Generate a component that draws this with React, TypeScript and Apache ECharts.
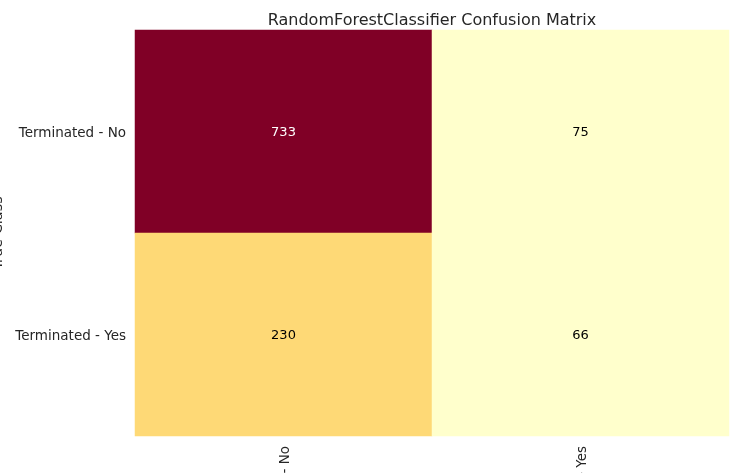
import React, { useEffect, useRef } from "react";
import * as echarts from "echarts";

const predictedClasses = ["Terminated - No", "Terminated - Yes"];
const trueClasses = ["Terminated - No", "Terminated - Yes"];
// [predictedIndex, trueIndex, count]
const cells: [number, number, number][] = [
  [0, 0, 733],
  [1, 0, 75],
  [0, 1, 230],
  [1, 1, 66],
];

export default function App() {
  const ref = useRef<HTMLDivElement>(null);
  useEffect(() => {
    if (!ref.current) return;
    const chart = echarts.init(ref.current, null, { renderer: "svg" });
    const font = "DejaVu Sans";
    chart.setOption({
      animation: false,
      title: {
        text: "RandomForestClassifier Confusion Matrix",
        left: 427,
        textAlign: "center",
        top: 6,
        textStyle: { fontFamily: font, fontSize: 16, fontWeight: "normal", color: "#262626" },
      },
      grid: { left: 135, right: 22, top: 30, bottom: 37, containLabel: false, outerBoundsMode: "none" },
      xAxis: {
        type: "category",
        data: predictedClasses,
        axisLine: { show: false },
        axisTick: { show: false },
        splitLine: { show: false },
        axisLabel: { rotate: 90, margin: 10, fontFamily: font, fontSize: 13.5, color: "#262626" },
      },
      yAxis: {
        type: "category",
        data: trueClasses,
        inverse: true,
        name: "True Class",
        nameLocation: "middle",
        nameGap: 121,
        nameTextStyle: { fontFamily: font, fontSize: 14.5, color: "#262626" },
        axisLine: { show: false },
        axisTick: { show: false },
        splitLine: { show: false },
        axisLabel: { margin: 9, fontFamily: font, fontSize: 13.5, color: "#262626" },
      },
      visualMap: {
        type: "piecewise",
        show: false,
        dimension: 2,
        pieces: [
          { lt: 100, color: "#FFFFCC" },
          { gte: 100, lt: 500, color: "#FED976" },
          { gte: 500, color: "#800026" },
        ],
      },
      series: [
        {
          type: "heatmap",
          data: cells.map((c) =>
            c[2] > 500 ? { value: c, label: { color: "#ffffff" } } : { value: c }
          ),
          label: {
            show: true,
            fontFamily: font,
            fontSize: 13,
            formatter: (p: any) => String(p.value[2]),
            color: "#000",
          },
          emphasis: { disabled: true },
        },
      ],
    });
    return () => chart.dispose();
  }, []);
  return (
    <div
      ref={ref}
      style={{ position: "fixed", left: 0, top: 0, width: 751, height: 473 }}
    />
  );
}
